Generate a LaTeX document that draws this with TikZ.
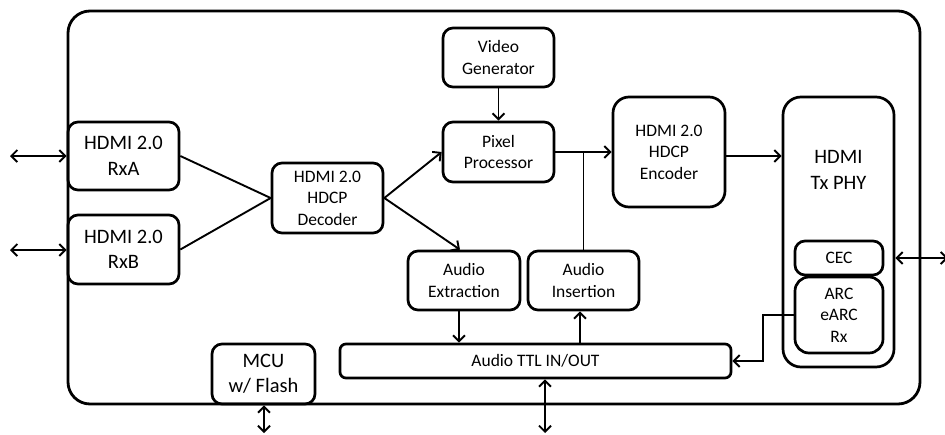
\documentclass[tikz,border=0pt]{standalone}
\usepackage{fontspec}
\setmainfont{Carlito}
\usetikzlibrary{arrows.meta,calc}
\newcommand\bigf{\fontsize{20.5}{25.5}\selectfont}
\newcommand\smallf{\fontsize{17.5}{21.5}\selectfont}
\newcommand\bx[7][]{%
  \node[box,#1,minimum width={(#5-#3)*1pt},minimum height={(#6-#4)*1pt}]
    (#2) at ({(#3+#5)/2},{(#4+#6)/2}) {#7};}
\tikzset{
  box/.style={draw,line width=2.7pt,rounded corners=10pt,align=center,inner sep=0pt,font=\smallf},
  conn/.style={line width=1.9pt},
  tipb/.tip={Straight Barb[length=6pt,width=12pt,line width=1.9pt]},
  arr/.style={conn,-tipb},
  darr/.style={conn,tipb-tipb}
}
\begin{document}
\begin{tikzpicture}[x=1pt,y=-1pt]
\useasboundingbox (0,0) rectangle (945,434);
% outer frame
\draw[line width=2.8pt,rounded corners=22pt] (68,11) rectangle (920,404);
% boxes
\bx[font=\bigf]{rxa}{68}{122}{179}{190}{HDMI 2.0\\RxA}
\bx[font=\bigf]{rxb}{68}{215}{179}{284}{HDMI 2.0\\RxB}
\bx{dec}{272}{163}{383}{233}{HDMI 2.0\\HDCP\\Decoder}
\bx{vid}{443}{28}{554}{87}{Video\\Generator}
\bx{pix}{443}{122}{554}{182}{Pixel\\Processor}
\bx[rounded corners=16pt]{enc}{613}{97}{725}{207}{HDMI 2.0\\HDCP\\Encoder}
\bx[rounded corners=18pt]{phy}{783}{97}{894}{367}{}
\node[font=\bigf,align=center] (phytxt) at (838.5,170) {HDMI\\Tx PHY};
\bx{cec}{795}{241}{883}{275}{CEC}
\bx[rounded corners=14pt]{arc}{795}{277}{883}{353}{ARC\\eARC\\Rx}
\bx{ext}{408}{251}{520}{310}{Audio\\Extraction}
\bx{ins}{528}{251}{639}{310}{Audio\\Insertion}
\bx[rounded corners=6pt]{ttl}{340}{344}{731}{378}{Audio TTL IN/OUT}
\bx[font=\bigf]{mcu}{212}{344}{315}{404}{MCU\\w/ Flash}
% external coordinates
\coordinate (ina) at (10,156);
\coordinate (inb) at (10,250);
\coordinate (outr) at (948,258);
\coordinate (mcuout) at (264,433);
\coordinate (ttlout) at (545,433);
\coordinate (arcturn) at (763,315);
% connectors
\draw[darr] (ina) -- (ina -| rxa.west);
\draw[darr] (inb) -- (inb -| rxb.west);
\draw[conn] (rxa.east) -- (dec.west);
\draw[conn] (rxb.east) -- (dec.west);
\draw[arr] (dec.east) -- (pix.west);
\draw[arr] (dec.east) -- ([xshift=-4pt]ext.north);
\draw[arr] (vid.south) -- (pix.north);
\draw[arr] (pix.east) -- (pix.east -| enc.west);
\draw[conn] (pix.east -| ins.north) -- (ins.north);
\draw[arr] (enc.east |- 0,156) -- (phy.west |- 0,156);
\draw[darr] (phy.east |- cec.east) -- (outr);
\draw[arr] (arc.west |- arcturn) -- (arcturn) |- (ttl.east);
\draw[arr] ([xshift=-5pt]ext.south) -- ([xshift=-5pt]ext.south |- ttl.north);
\draw[arr] ([xshift=-3.5pt]ins.south |- ttl.north) -- ([xshift=-3.5pt]ins.south);
\draw[darr] (ttlout |- ttl.south) -- (ttlout);
\draw[darr] (mcuout |- mcu.south) -- (mcuout);
\end{tikzpicture}
\end{document}
